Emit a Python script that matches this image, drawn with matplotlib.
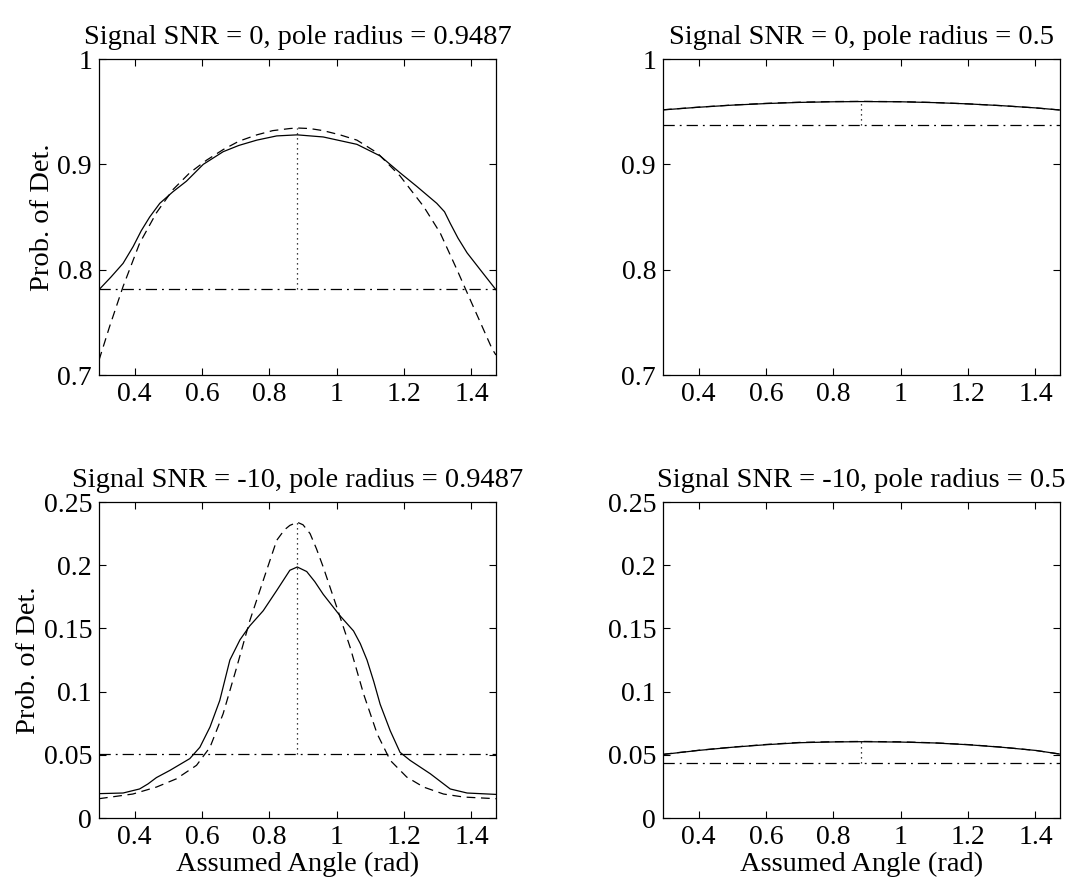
import numpy as np
import matplotlib.pyplot as plt

plt.rcParams['font.family'] = ['Liberation Serif', 'DejaVu Serif']

xlim = (0.2945, 1.4726)
x0 = 0.8836  # true angle

# top-left: SNR = 0, r = 0.9487
tl_sx = [0.2945, 0.33, 0.366, 0.396, 0.42, 0.445, 0.475, 0.514, 0.554, 0.604, 0.663, 0.71, 0.763,
         0.822, 0.883, 0.960, 1.06, 1.129, 1.188, 1.238, 1.297, 1.32, 1.337, 1.36, 1.387, 1.426, 1.4726]
tl_sy = [0.781, 0.793, 0.806, 0.822, 0.837, 0.850, 0.863, 0.874, 0.884, 0.900, 0.912, 0.918, 0.923,
         0.927, 0.928, 0.926, 0.919, 0.908, 0.892, 0.879, 0.863, 0.855, 0.844, 0.830, 0.816, 0.800,
         0.781]
tl_dx = [0.2945, 0.326, 0.366, 0.415, 0.465, 0.514, 0.564, 0.614, 0.663, 0.71, 0.763, 0.81, 0.861,
         0.883, 0.920, 0.960, 1.01, 1.06, 1.12, 1.188, 1.258, 1.307, 1.357, 1.397, 1.436, 1.461, 1.4726]
tl_dy = [0.714, 0.746, 0.784, 0.825, 0.854, 0.876, 0.892, 0.904, 0.914, 0.922, 0.928, 0.932, 0.934,
         0.9345, 0.934, 0.932, 0.928, 0.923, 0.911, 0.889, 0.860, 0.835, 0.800, 0.771, 0.743, 0.725,
         0.719]
tl_thr = 0.7815

# top-right: SNR = 0, r = 0.5
tr_sx = [0.2945, 0.4, 0.5, 0.6, 0.7, 0.8, 0.8836, 1.0, 1.1, 1.2, 1.3, 1.4, 1.4726]
tr_sy = [0.9517, 0.9542, 0.9562, 0.9577, 0.9588, 0.9594, 0.9596, 0.9594, 0.9586, 0.9574, 0.9557,
         0.9536, 0.9516]
tr_dy = [0.9518, 0.9543, 0.9563, 0.9579, 0.9590, 0.9596, 0.9598, 0.9595, 0.9587, 0.9574, 0.9557,
         0.9536, 0.9516]
tr_thr = 0.9375

# bottom-left: SNR = -10, r = 0.9487
bl_sx = [0.2945, 0.366, 0.415, 0.44, 0.465, 0.505, 0.564, 0.594, 0.624, 0.653, 0.683, 0.713, 0.742,
         0.782, 0.822, 0.861, 0.883, 0.911, 0.935, 0.96, 1.01, 1.05, 1.07, 1.09, 1.11, 1.129, 1.159,
         1.188, 1.218, 1.278, 1.337, 1.387, 1.4726]
bl_sy = [0.0193, 0.0198, 0.023, 0.027, 0.032, 0.0377, 0.047, 0.056, 0.072, 0.093, 0.125, 0.141,
         0.152, 0.164, 0.180, 0.196, 0.1986, 0.195, 0.187, 0.177, 0.160, 0.148, 0.138, 0.125, 0.108,
         0.090, 0.069, 0.052, 0.0456, 0.035, 0.023, 0.0198, 0.0187]
bl_dx = [0.2945, 0.395, 0.465, 0.524, 0.584, 0.624, 0.663, 0.703, 0.742, 0.782, 0.822, 0.845,
         0.861, 0.883, 0.90, 0.921, 0.94, 0.96, 1.0, 1.04, 1.08, 1.12, 1.159, 1.208, 1.258, 1.317,
         1.377, 1.4726]
bl_dy = [0.0153, 0.019, 0.0245, 0.031, 0.0417, 0.056, 0.0825, 0.119, 0.156, 0.188, 0.2197, 0.228,
         0.2315, 0.234, 0.232, 0.225, 0.213, 0.1986, 0.167, 0.135, 0.098, 0.0667, 0.0456, 0.0324,
         0.0245, 0.019, 0.0166, 0.0153]
bl_thr = 0.051

# bottom-right: SNR = -10, r = 0.5
br_sx = tr_sx
br_sy = [0.0503, 0.0535, 0.0560, 0.0580, 0.0596, 0.0602, 0.0604, 0.0601, 0.0594, 0.0580, 0.0560,
         0.0535, 0.0506]
br_dy = [0.0504, 0.0536, 0.0561, 0.0582, 0.0598, 0.0604, 0.0606, 0.0603, 0.0595, 0.0581, 0.0561,
         0.0535, 0.0506]
br_thr = 0.0435

titles = ['Signal SNR = 0, pole radius = 0.9487', 'Signal SNR = 0, pole radius = 0.5',
          'Signal SNR = -10, pole radius = 0.9487', 'Signal SNR = -10, pole radius = 0.5']

fig = plt.figure(figsize=(10.84, 8.86), dpi=100)
boxes = [(0.0913, 0.5767), (0.6116, 0.5767), (0.0913, 0.0767), (0.6116, 0.0767)]
panels = [
    (tl_sx, tl_sy, tl_dx, tl_dy, tl_thr, (0.7, 1.0), [0.7, 0.8, 0.9, 1.0], ['0.7', '0.8', '0.9', '1']),
    (tr_sx, tr_sy, tr_sx, tr_dy, tr_thr, (0.7, 1.0), [0.7, 0.8, 0.9, 1.0], ['0.7', '0.8', '0.9', '1']),
    (bl_sx, bl_sy, bl_dx, bl_dy, bl_thr, (0, 0.25), [0, 0.05, 0.1, 0.15, 0.2, 0.25],
     ['0', '0.05', '0.1', '0.15', '0.2', '0.25']),
    (br_sx, br_sy, br_sx, br_dy, br_thr, (0, 0.25), [0, 0.05, 0.1, 0.15, 0.2, 0.25],
     ['0', '0.05', '0.1', '0.15', '0.2', '0.25']),
]

for i, (box, p) in enumerate(zip(boxes, panels)):
    sx, sy, dx, dy, thr, ylim, yt, ytl = p
    ax = fig.add_axes([box[0], box[1], 0.3662, 0.3567])
    ax.plot(sx, sy, 'k-', lw=0.9)
    ax.plot(dx, dy, 'k--', lw=0.9, dashes=(7, 4.5))
    ax.plot(xlim, [thr, thr], 'k-.', lw=0.9, dashes=(9, 4, 1.5, 4))
    top = max(np.interp(x0, sx, sy), np.interp(x0, dx, dy))
    ax.plot([x0, x0], [thr, top], 'k:', lw=0.9, dashes=(1, 3))
    ax.set_xlim(xlim)
    ax.set_ylim(ylim)
    ax.set_xticks([0.4, 0.6, 0.8, 1.0, 1.2, 1.4])
    ax.set_xticklabels(['0.4', '0.6', '0.8', '1', '1.2', '1.4'])
    ax.set_yticks(yt)
    ax.set_yticklabels(ytl)
    ax.tick_params(direction='in', top=True, right=True, length=5, width=0.8,
                   labelsize=20, pad=5)
    for s in ax.spines.values():
        s.set_linewidth(0.9)
    ax.set_title(titles[i], fontsize=20.5, pad=11)
    if i % 2 == 0:
        ax.set_ylabel('Prob. of Det.', fontsize=20.5, labelpad=2)
    if i >= 2:
        ax.set_xlabel('Assumed Angle (rad)', fontsize=20.5, labelpad=1)

fig.savefig('out.png', dpi=100)
